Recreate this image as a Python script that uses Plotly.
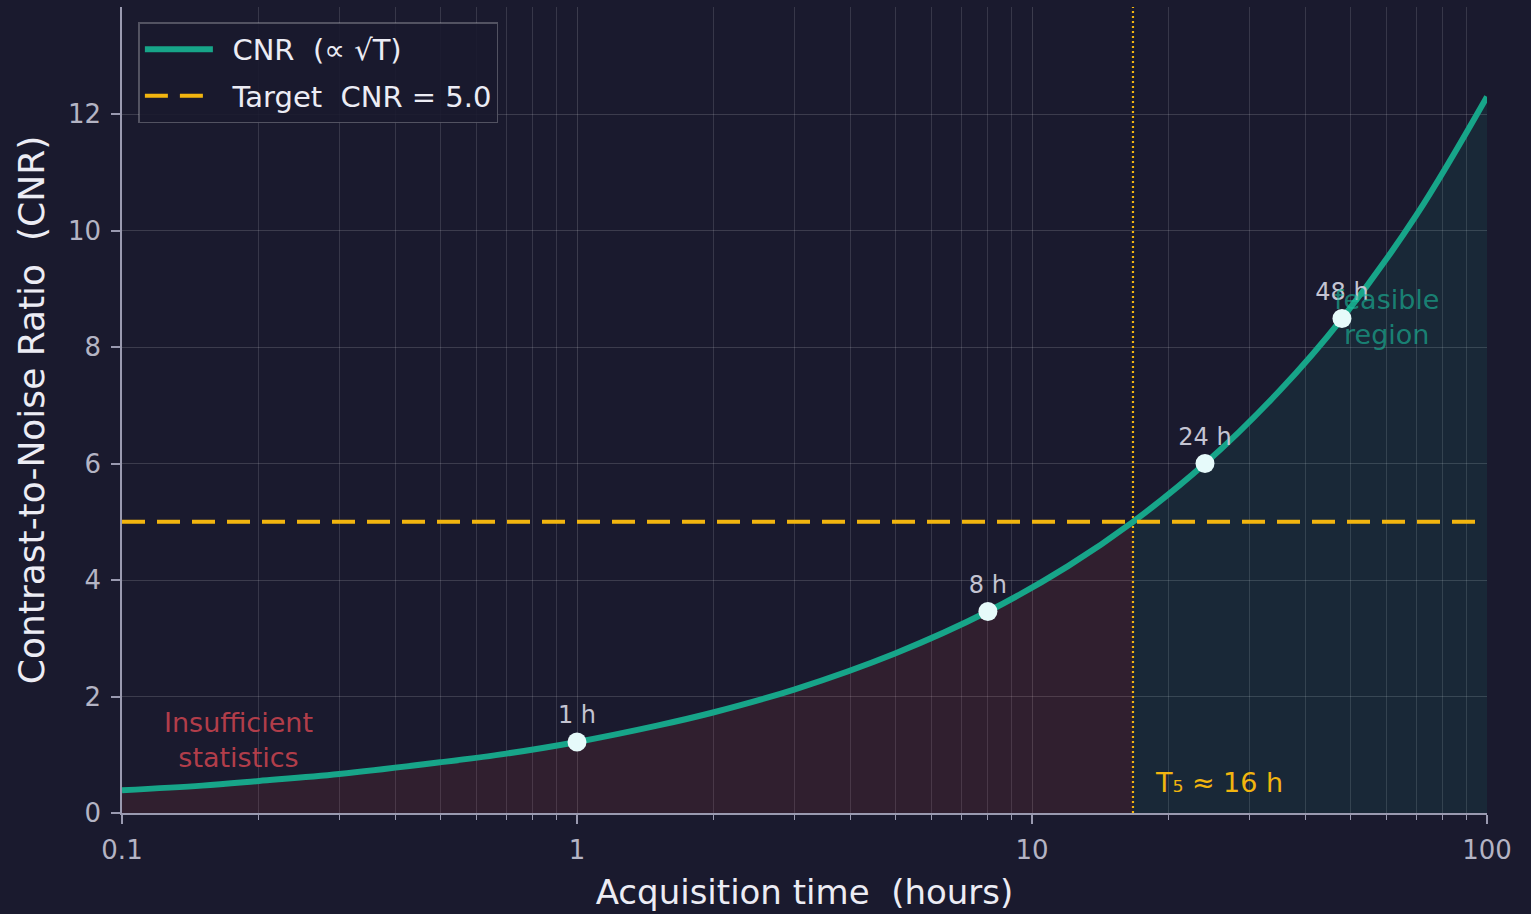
import numpy as np
import plotly.graph_objects as go

# Acquisition time (hours) and measured contrast-to-noise ratio along the curve
time_h = [0.1, 0.15, 0.2, 0.3, 0.5, 0.7, 1.0, 1.5, 2.0, 3.0, 5.0, 8.0, 12.0,
          16.67, 24.0, 35.0, 48.0, 70.0, 100.0]
cnr = [0.39, 0.47, 0.55, 0.67, 0.87, 1.02, 1.22, 1.50, 1.73, 2.12, 2.74, 3.46,
       4.24, 5.00, 6.00, 7.25, 8.49, 10.27, 12.3]

# Highlighted acquisition times
marker_time = [1.0, 8.0, 24.0, 48.0]
marker_cnr = [1.22, 3.46, 6.00, 8.49]
marker_text = ["1 h", "8 h", "24 h", "48 h"]

target_cnr = 5.0
t5 = 16.67
y_max = 13.84

x_major = [0.1, 1, 10, 100]
x_major_text = ["0.1", "1", "10", "100"]
x_minor = [m * d for d in (0.1, 1, 10) for m in range(2, 10)]
y_ticks = [0, 2, 4, 6, 8, 10, 12]

BG = "#1a1a2e"
TEAL = "#17a589"
ORANGE = "#f2b50f"
GRID = "rgba(255,255,255,0.15)"
AXIS = "#9a9ab0"
TICKTXT = "#b4b4c4"
FONT = "DejaVu Sans"

below = [i for i, t in enumerate(time_h) if t <= t5]
above = [i for i, t in enumerate(time_h) if t >= t5]

fig = go.Figure()

# shaded regions under the curve
fig.add_trace(go.Scatter(
    x=[time_h[i] for i in below], y=[cnr[i] for i in below],
    mode="lines", line=dict(width=0, shape="spline"),
    fill="tozeroy", fillcolor="rgba(231,76,60,0.11)",
    showlegend=False, hoverinfo="skip"))
fig.add_trace(go.Scatter(
    x=[time_h[i] for i in above], y=[cnr[i] for i in above],
    mode="lines", line=dict(width=0, shape="spline"),
    fill="tozeroy", fillcolor="rgba(26,188,156,0.09)",
    showlegend=False, hoverinfo="skip"))

# threshold crossing time
fig.add_trace(go.Scatter(
    x=[t5, t5], y=[0, y_max], mode="lines",
    line=dict(color=ORANGE, width=2.2, dash="2px,3px"),
    showlegend=False, hoverinfo="skip"))

# CNR curve
fig.add_trace(go.Scatter(
    x=time_h, y=cnr, mode="lines", name="\u2002CNR  (\u221d \u221aT)",
    legendgroup="cnr",
    line=dict(color=TEAL, width=6, shape="spline")))

# target level
fig.add_trace(go.Scatter(
    x=[0.1, 100], y=[target_cnr, target_cnr], mode="lines",
    name="\u2002Target  CNR = 5.0", legendgroup="target",
    line=dict(color=ORANGE, width=4, dash="23px,12px")))

# highlighted points
fig.add_trace(go.Scatter(
    x=marker_time, y=marker_cnr, mode="markers+text",
    text=marker_text, textposition="top center",
    textfont=dict(family=FONT, size=24, color="#c4c4d2"),
    marker=dict(size=19, color="#e6fafa"),
    showlegend=False, hoverinfo="skip"))

annotations = [
    dict(x=np.log10(0.18), y=1.25, xref="x", yref="y",
         text="Insufficient<br>statistics", showarrow=False,
         font=dict(family=FONT, size=27, color="rgba(220,72,82,0.8)"),
         align="center"),
    dict(x=np.log10(60), y=8.52, xref="x", yref="y",
         text="feasible<br>region", showarrow=False,
         font=dict(family=FONT, size=27, color="rgba(26,188,156,0.62)"),
         align="center"),
    dict(x=np.log10(t5), y=0.53, xref="x", yref="y",
         text="T\u2085 \u2248 16 h", showarrow=False, xanchor="left",
         xshift=20,
         font=dict(family=FONT, size=27, color=ORANGE)),
]

fig.update_layout(
    width=1531, height=914,
    paper_bgcolor=BG, plot_bgcolor=BG,
    margin=dict(l=122, r=44, t=7, b=101),
    font=dict(family=FONT, color=TICKTXT),
    annotations=annotations,
    legend=dict(
        x=0.012, y=0.981, xanchor="left", yanchor="top",
        bgcolor="rgba(26,26,46,0.9)", bordercolor="rgba(255,255,255,0.25)",
        borderwidth=1.5, tracegroupgap=6, traceorder="grouped",
        font=dict(family=FONT, size=29, color="#ececf4"),
        itemwidth=68,
    ),
)

fig.update_xaxes(
    type="log", range=[-1, 2],
    tickmode="array", tickvals=x_major, ticktext=x_major_text,
    ticks="outside", ticklen=9, tickwidth=1.5, tickcolor=AXIS,
    tickfont=dict(family=FONT, size=26, color=TICKTXT),
    ticklabelstandoff=4,
    showline=True, linecolor=AXIS, linewidth=1.5,
    showgrid=True, gridcolor=GRID, gridwidth=1,
    zeroline=False,
    minor=dict(tickmode="array", tickvals=x_minor, ticks="outside",
               ticklen=5, tickwidth=1, tickcolor=AXIS,
               showgrid=True, gridcolor="rgba(255,255,255,0.13)", gridwidth=1),
    title=dict(text="Acquisition time \u00a0(hours)", standoff=16,
               font=dict(family=FONT, size=34, color="#ececf4")),
)

fig.update_yaxes(
    range=[0, y_max],
    tickmode="array", tickvals=y_ticks,
    ticks="outside", ticklen=9, tickwidth=1.5, tickcolor=AXIS,
    tickfont=dict(family=FONT, size=26, color=TICKTXT),
    ticklabelstandoff=5,
    showline=True, linecolor=AXIS, linewidth=1.5,
    showgrid=True, gridcolor=GRID, gridwidth=1,
    zeroline=False,
    title=dict(text="Contrast-to-Noise Ratio \u00a0(CNR)", standoff=12,
               font=dict(family=FONT, size=36, color="#ececf4")),
)

fig.write_html("out.html")
